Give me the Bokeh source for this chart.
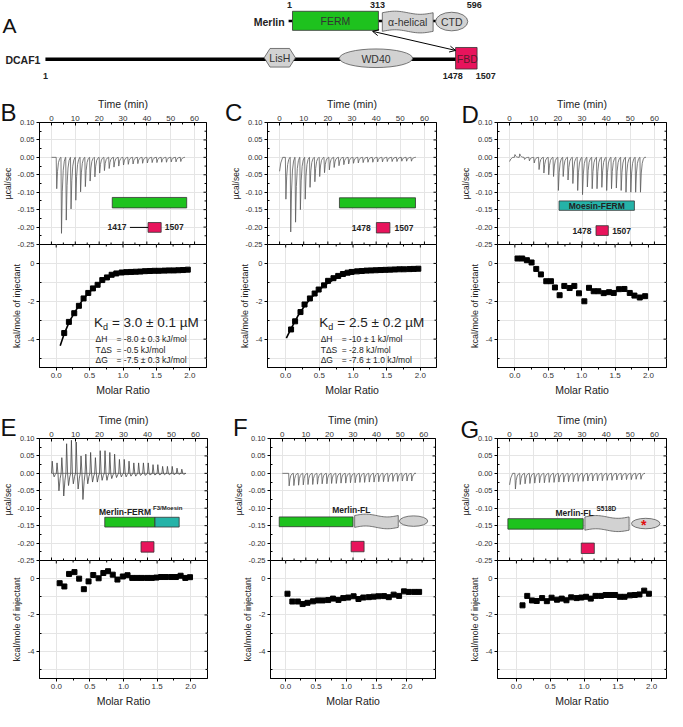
import numpy as np
from bokeh.plotting import figure
from bokeh.layouts import row, column
from bokeh.models import LinearAxis, Range1d, FixedTicker, NumeralTickFormatter, Label, Arrow, OpenHead
from bokeh.embed import file_html
from bokeh.resources import INLINE

S = 667 / 683
OVL = 5  # px that each isotherm panel slides up under its thermogram panel

FONT = "Liberation Sans"
GREEN = "#1ec21e"
PINK = "#e8145c"
TEAL = "#25b3a8"
GREY = "#d2d2d2"
EDGE = "#333333"
TRACE = "#5a5a5a"

# ---------------- data ----------------
panel_letters = ["B", "C", "D", "E", "F", "G"]
merlin_res = ["1", "313", "596"]
dcaf1_res = ["1", "1478", "1507"]

# Thermograms: injection times (min) and peak heights (ucal/sec)
B_inj_t = [2, 4, 6, 8, 10, 12, 14, 16, 18, 20, 22, 24, 26, 28, 30, 32, 34, 36, 38, 40, 42, 44, 46, 48, 50, 52, 54]
B_peak = [-0.090, -0.218, -0.180, -0.148, -0.123, -0.099, -0.084, -0.068, -0.056, -0.045, -0.038, -0.032, -0.028,
          -0.025, -0.022, -0.020, -0.019, -0.018, -0.017, -0.016, -0.015, -0.015, -0.014, -0.014, -0.013, -0.013, -0.012]

C_inj_t = [2.4, 4.4, 6.4, 8.4, 10.4, 12.4, 14.4, 16.4, 18.4, 20.4, 22.4, 24.4, 26.4, 28.4, 30.4, 32.4, 34.4, 36.4,
           38.4, 40.4, 42.4, 44.4, 46.4, 48.4, 50.4, 52.4, 54.4]
C_peak = [-0.120, -0.214, -0.186, -0.150, -0.120, -0.086, -0.070, -0.055, -0.044, -0.036, -0.029, -0.024, -0.021,
          -0.019, -0.017, -0.016, -0.015, -0.014, -0.014, -0.013, -0.013, -0.012, -0.012, -0.012, -0.011, -0.011, -0.011]
C_start = -0.040

D_inj_t = [2, 4, 6, 8, 10, 12, 14, 16, 18, 20, 22, 24, 26, 28, 30, 32, 34, 36, 38, 40, 42, 44, 46, 48, 50, 52, 54]
D_peak = [0.008, 0.010, -0.006, -0.010, -0.016, -0.035, -0.045, -0.050, -0.055, -0.095, -0.055, -0.065, -0.075,
          -0.095, -0.107, -0.085, -0.090, -0.090, -0.086, -0.095, -0.090, -0.088, -0.095, -0.100, -0.100, -0.100, -0.100]
D_start = -0.012

E_inj_t = [0, 2, 4, 6, 8, 10, 12, 14, 16, 18, 20, 22, 24, 26, 28, 30, 32, 34, 36, 38, 40, 42, 44, 46, 48, 50, 52, 54]
E_up = [0.035, 0.030, 0.045, 0.085, 0.095, 0.090, 0.050, 0.055, 0.060, 0.045, 0.065, 0.065, 0.060, 0.055, 0.040,
        0.040, 0.035, 0.030, 0.030, 0.030, 0.030, 0.025, 0.025, 0.020, 0.020, 0.020, 0.015, 0.012]
E_dn = [-0.010, -0.050, -0.065, -0.035, -0.030, -0.045, -0.075, -0.030, -0.025, -0.025, -0.020, -0.020, -0.015,
        -0.012, -0.010, -0.010, -0.008, -0.008, -0.006, -0.006, -0.005, -0.005, -0.005, -0.004, -0.004, -0.004,
        -0.003, -0.003]

F_inj_t = [2.7, 4.7, 6.7, 8.7, 10.7, 12.7, 14.7, 16.7, 18.7, 20.7, 22.7, 24.7, 26.7, 28.7, 30.7, 32.7, 34.7, 36.7,
           38.7, 40.7, 42.7, 44.7, 46.7, 48.7, 50.7, 52.7, 54.7]
F_peak = [-0.036, -0.035, -0.034, -0.033, -0.032, -0.032, -0.031, -0.030, -0.030, -0.029, -0.029, -0.028, -0.028,
          -0.027, -0.027, -0.026, -0.026, -0.025, -0.025, -0.024, -0.024, -0.024, -0.023, -0.023, -0.022, -0.022, -0.022]

G_inj_t = [2.2, 4.2, 6.2, 8.2, 10.2, 12.2, 14.2, 16.2, 18.2, 20.2, 22.2, 24.2, 26.2, 28.2, 30.2, 32.2, 34.2, 36.2,
           38.2, 40.2, 42.2, 44.2, 46.2, 48.2, 50.2, 52.2, 54.2]
G_peak = [-0.045, -0.032, -0.030, -0.029, -0.028, -0.027, -0.027, -0.026, -0.026, -0.025, -0.025, -0.024, -0.024,
          -0.023, -0.023, -0.022, -0.022, -0.021, -0.021, -0.020, -0.020, -0.019, -0.019, -0.018, -0.018, -0.017, -0.017]
G_start = -0.033

# Integrated heats (kcal/mole of injectant) vs molar ratio
B_mr = [0.12, 0.19, 0.27, 0.34, 0.41, 0.48, 0.55, 0.62, 0.69, 0.76, 0.83, 0.90, 0.98, 1.05, 1.12, 1.19, 1.26, 1.33,
        1.40, 1.47, 1.54, 1.62, 1.69, 1.76, 1.83, 1.90, 1.97]
B_heat = [-3.68, -3.09, -2.63, -2.24, -1.85, -1.56, -1.32, -1.13, -0.88, -0.74, -0.60, -0.53, -0.48, -0.46, -0.45,
          -0.44, -0.43, -0.41, -0.40, -0.39, -0.39, -0.38, -0.37, -0.37, -0.36, -0.35, -0.33]
B_fit_x = [0.06, 0.12, 0.2, 0.3, 0.4, 0.5, 0.6, 0.7, 0.8, 0.9, 1.0, 1.2, 1.4, 1.6, 1.8, 2.0]
B_fit_y = [-4.35, -3.72, -3.05, -2.45, -1.90, -1.50, -1.18, -0.90, -0.70, -0.56, -0.48, -0.43, -0.40, -0.38, -0.36, -0.34]

C_mr = [0.08, 0.14, 0.22, 0.28, 0.36, 0.43, 0.49, 0.57, 0.63, 0.71, 0.78, 0.85, 0.92, 0.98, 1.06, 1.13, 1.20, 1.27,
        1.34, 1.41, 1.48, 1.55, 1.62, 1.69, 1.76, 1.84, 1.90, 1.97]
C_heat = [-3.49, -3.06, -2.57, -2.17, -1.85, -1.59, -1.38, -1.16, -0.92, -0.78, -0.66, -0.56, -0.49, -0.45, -0.42,
          -0.40, -0.38, -0.37, -0.36, -0.35, -0.34, -0.33, -0.32, -0.31, -0.31, -0.30, -0.29, -0.28]
C_fit_x = [0.01, 0.08, 0.18, 0.29, 0.40, 0.50, 0.61, 0.72, 0.82, 0.93, 1.04, 1.25, 1.46, 1.68, 2.00]
C_fit_y = [-3.95, -3.45, -2.78, -2.20, -1.74, -1.38, -1.08, -0.84, -0.66, -0.54, -0.47, -0.40, -0.36, -0.33, -0.28]

D_mr = [0.04, 0.11, 0.18, 0.25, 0.32, 0.39, 0.47, 0.54, 0.60, 0.67, 0.74, 0.82, 0.89, 0.96, 1.04, 1.11, 1.18, 1.25,
        1.33, 1.41, 1.48, 1.56, 1.64, 1.72, 1.79, 1.87, 1.95]
D_heat = [0.26, 0.26, 0.17, 0.05, -0.29, -0.58, -0.94, -0.94, -1.27, -1.68, -1.19, -1.30, -1.19, -1.58, -2.00, -1.29,
          -1.47, -1.47, -1.57, -1.52, -1.56, -1.36, -1.35, -1.56, -1.70, -1.80, -1.73]

E_mr = [0.05, 0.12, 0.19, 0.27, 0.34, 0.41, 0.48, 0.55, 0.63, 0.70, 0.77, 0.84, 0.91, 0.99, 1.06, 1.13, 1.20, 1.27,
        1.35, 1.42, 1.49, 1.56, 1.63, 1.71, 1.78, 1.85, 1.92, 1.99]
E_heat = [-0.25, -0.43, 0.26, 0.36, 0.00, -0.58, -0.15, 0.20, 0.02, 0.31, 0.41, 0.22, -0.05, 0.12, 0.19, 0.04, 0.04,
          0.04, 0.04, 0.04, 0.06, 0.09, 0.09, 0.09, 0.09, 0.16, 0.04, 0.08]

F_mr = [0.03, 0.11, 0.20, 0.28, 0.36, 0.45, 0.53, 0.61, 0.70, 0.78, 0.87, 0.95, 1.03, 1.12, 1.20, 1.28, 1.37, 1.45,
        1.53, 1.62, 1.70, 1.78, 1.87, 1.95, 2.03, 2.12, 2.20]
F_heat = [-0.83, -1.26, -1.26, -1.40, -1.33, -1.25, -1.20, -1.20, -1.18, -1.10, -1.17, -1.07, -1.04, -0.97, -1.12,
          -1.04, -1.02, -0.99, -0.97, -0.96, -1.02, -0.88, -0.95, -0.70, -0.73, -0.73, -0.73]

G_mr = [0.09, 0.16, 0.23, 0.30, 0.38, 0.45, 0.52, 0.60, 0.67, 0.74, 0.81, 0.89, 0.96, 1.03, 1.10, 1.17, 1.25, 1.32,
        1.39, 1.46, 1.53, 1.60, 1.68, 1.75, 1.82, 1.89, 1.96]
G_heat = [-1.47, -0.95, -1.20, -1.23, -1.07, -1.24, -1.05, -1.16, -1.10, -1.19, -1.03, -1.07, -1.04, -1.00, -1.10,
          -0.95, -0.95, -0.90, -0.90, -0.90, -1.00, -1.00, -0.92, -0.90, -0.87, -0.66, -0.83]

# axis ticks
TH_YT = [-0.25, -0.20, -0.15, -0.10, -0.05, 0.00, 0.05, 0.10]
TH_YM = [-0.225, -0.175, -0.125, -0.075, -0.025, 0.025, 0.075]
TIME_T = [0, 10, 20, 30, 40, 50, 60]
TIME_M = [5, 15, 25, 35, 45, 55]
ISO_YT = [-4, -2, 0]
ISO_YM = [-5, -3, -1]
MR_T = [0.0, 0.5, 1.0, 1.5, 2.0]
MR_M = [0.25, 0.75, 1.25, 1.75]
MR_T_F = [0.0, 0.5, 1.0, 1.5, 2.0, 2.5]
MR_M_F = [0.25, 0.75, 1.25, 1.75, 2.25]

# ---------------- helpers ----------------
SPIKE_DT = [0.0, 0.22, 0.55, 0.95, 1.4, 1.9]
SPIKE_SHAPE = [0.0, 1.0, 0.45, 0.17, 0.05, 0.0]


def trace_pts(times, peaks, t_end, start=0.0):
    xs, ys = [0.0], [start]
    if start != 0.0:
        xs += [0.5, 1.3]
        ys += [start * 0.4, 0.0]
    for t, pk in zip(times, peaks):
        for dt, f in zip(SPIKE_DT, SPIKE_SHAPE):
            xs.append(t + dt)
            ys.append(pk * f)
    xs.append(t_end)
    ys.append(0.0)
    return xs, ys


def trace_updown(times, ups, downs, t_end):
    xs, ys = [], []
    for t, u, d in zip(times, ups, downs):
        xs += [t, t + 0.3, t + 0.7, t + 1.1, t + 1.6]
        ys += [0.0, u, 0.0, d, 0.3 * d]
    xs.append(t_end)
    ys.append(0.0)
    return xs, ys


def lab(p, x, y, text, size, bold=False, color="#222222", align="left", baseline="middle", xo=0, yo=0):
    p.add_layout(Label(x=x, y=y, text=text, text_font=FONT,
                       text_font_size=f"{size}px", text_font_style="bold" if bold else "normal",
                       text_color=color, text_align=align, text_baseline=baseline, x_offset=xo, y_offset=yo))


def style_axis(ax, lsize=7.5, tsize=10.5, tin=0, tout=3, min_in=2, min_out=0, tstand=3):
    ax.major_label_text_font = FONT
    ax.major_label_text_font_size = f"{lsize}px"
    ax.major_label_text_color = "#333333"
    ax.axis_label_text_font = FONT
    ax.axis_label_text_font_size = f"{tsize}px"
    ax.axis_label_text_font_style = "normal"
    ax.axis_label_text_color = "#222222"
    ax.axis_label_standoff = tstand
    ax.major_label_standoff = 2
    ax.major_tick_in = tin
    ax.major_tick_out = tout
    ax.minor_tick_in = min_in
    ax.minor_tick_out = min_out
    ax.axis_line_color = "black"
    ax.major_tick_line_color = "black"
    ax.minor_tick_line_color = "black"


def edge_ticks(p, xs, y, angle, length):
    # short inward tick marks along a frame edge (mirror ticks)
    p.ray(x=xs, y=y, length=length, length_units="screen", angle=angle, line_color="black", line_width=1)


def thermo_fig(w, h, lb, rb, tb):
    p = figure(width=w, height=h + OVL, x_range=Range1d(-5, 65), y_range=Range1d(-0.25, 0.10),
               output_backend="svg", toolbar_location=None, x_axis_location=None, y_axis_location=None,
               min_border_left=lb, min_border_right=rb, min_border_top=tb, min_border_bottom=OVL)
    p.outline_line_color = "black"
    p.border_fill_color = None
    left = LinearAxis(ticker=FixedTicker(ticks=TH_YT, minor_ticks=TH_YM),
                      formatter=NumeralTickFormatter(format="0.00"), axis_label="µcal/sec")
    style_axis(left, tsize=8.5, tstand=1)
    p.add_layout(left, "left")
    top = LinearAxis(ticker=FixedTicker(ticks=TIME_T, minor_ticks=TIME_M), axis_label="Time (min)")
    style_axis(top, lsize=8, tin=3, tout=0)
    p.add_layout(top, "above")
    edge_ticks(p, [65] * len(TH_YT), TH_YT, np.pi, 3)
    edge_ticks(p, [65] * len(TH_YM), TH_YM, np.pi, 2)
    edge_ticks(p, TIME_T, [-0.25] * len(TIME_T), np.pi / 2, 3)
    edge_ticks(p, TIME_M, [-0.25] * len(TIME_M), np.pi / 2, 2)
    return p


def iso_fig(w, h, lb, rb, bb, xr, xt, xm, xs, ys):
    p = figure(width=w, height=h, x_range=Range1d(*xr), y_range=Range1d(-5.5, 1.0),
               output_backend="svg", toolbar_location=None, x_axis_location=None, y_axis_location=None,
               min_border_left=lb, min_border_right=rb, min_border_top=0, min_border_bottom=bb,
               margin=(-OVL, 0, 0, 0))
    p.border_fill_color = None
    p.outline_line_color = "black"
    p.outline_line_width = 1
    left = LinearAxis(ticker=FixedTicker(ticks=ISO_YT, minor_ticks=ISO_YM),
                      formatter=NumeralTickFormatter(format="0"), axis_label="kcal/mole of injectant")
    style_axis(left, tsize=9)
    p.add_layout(left, "left")
    bot = LinearAxis(ticker=FixedTicker(ticks=xt, minor_ticks=xm), formatter=NumeralTickFormatter(format="0.0"),
                     axis_label="Molar Ratio")
    style_axis(bot, lsize=8, min_in=0, min_out=2)
    p.add_layout(bot, "below")
    edge_ticks(p, [xr[1]] * len(ISO_YT), ISO_YT, np.pi, 3)
    edge_ticks(p, [xr[1]] * len(ISO_YM), ISO_YM, np.pi, 2)
    edge_ticks(p, xt, [1.0] * len(xt), -np.pi / 2, 3)
    edge_ticks(p, xm, [1.0] * len(xm), -np.pi / 2, 2)
    p.scatter(xs, ys, marker="square", size=5, color="black")
    return p


def box(p, x0, x1, y0, y1, color):
    p.quad(left=x0, right=x1, bottom=y0, top=y1, fill_color=color, line_color=EDGE, line_width=0.8)


def wavy(x0, x1, y0, y1, amp, n=30):
    xs = np.linspace(x0, x1, n)
    ph = (xs - x0) / (x1 - x0)
    wave = amp * np.sin(2 * np.pi * ph)
    top = y1 + wave
    bot = y0 + wave
    return list(xs) + list(xs[::-1]), list(top) + list(bot[::-1])


# ---------------- Panel A ----------------
pA = figure(width=667, height=93, x_range=Range1d(0, 683), y_range=Range1d(95, 0), output_backend="svg",
            toolbar_location=None, x_axis_location=None, y_axis_location=None,
            min_border_left=0, min_border_right=0, min_border_top=0, min_border_bottom=0)
pA.outline_line_color = None
pA.grid.visible = False
lab(pA, 2, 26, "A", 21, color="#111111", baseline="alphabetic")
lab(pA, 291, 22, "Merlin", 10.5, bold=True, align="right")
pA.segment(x0=[295, 387, 442], y0=[21, 21, 21], x1=[299, 391, 446], y1=[21, 21, 21], line_color="black",
           line_width=2.5)
box(pA, 299, 387, 11, 30.5, GREEN)
lab(pA, 343, 21, "FERM", 10.5, color="#333333", align="center")
hx, hy = wavy(391, 443, 31.5, 12.5, -1.6)
pA.patch(hx, hy, fill_color=GREY, line_color="#555555", line_width=0.8)
lab(pA, 417, 22, "α-helical", 10.5, color="#333333", align="center")
pA.ellipse(x=[462], y=[21.5], width=33, height=19, fill_color=GREY, line_color="#555555", line_width=0.8)
lab(pA, 462, 22, "CTD", 10.5, color="#333333", align="center")
for xpos, t in zip([296, 386, 485], merlin_res):
    lab(pA, xpos, 5, t, 9, bold=True, align="center")

lab(pA, 5, 61, "DCAF1", 10.5, bold=True)
pA.segment(x0=[46], y0=[60], x1=[467], y1=[60], line_color="black", line_width=3.5)
pA.patch([270, 276, 296, 302, 296, 276], [58.5, 49, 49, 58.5, 68, 68], fill_color=GREY, line_color="#555555",
         line_width=0.8)
lab(pA, 286, 59, "LisH", 10.5, color="#333333", align="center")
pA.ellipse(x=[384.5], y=[59], width=75, height=19, fill_color=GREY, line_color="#555555", line_width=0.8)
lab(pA, 384.5, 59.5, "WD40", 10.5, color="#333333", align="center")
box(pA, 466, 488, 48, 70, PINK)
lab(pA, 478, 60, "FBD", 10.5, color="#5a1a2a", align="center")
for xpos, t in zip([46, 463, 497], dcaf1_res):
    lab(pA, xpos, 77, t, 9, bold=True, align="center")
pA.add_layout(Arrow(start=OpenHead(size=6, line_width=1), end=OpenHead(size=6, line_width=1),
                    x_start=466, y_start=51, x_end=381, y_end=31.5, line_width=1, line_color="black"))

# ---------------- Row 1 ----------------
tB = thermo_fig(220, 151, 36, 14, 29)
x, y = trace_pts(B_inj_t, B_peak, 56)
tB.line(x, y, line_color=TRACE, line_width=0.8)
box(tB, 25.5, 56.7, -0.145, -0.115, GREEN)
box(tB, 40.5, 46.0, -0.215, -0.187, PINK)
tB.segment(x0=[32.9], y0=[-0.201], x1=[40.5], y1=[-0.201], line_color="black", line_width=1)
lab(tB, 27.5, -0.201, "1417", 8.5, bold=True, align="center")
lab(tB, 51.5, -0.201, "1507", 8.5, bold=True, align="center")

bB = iso_fig(220, 166, 36, 14, 43, (-0.25, 2.25), MR_T, MR_M, B_mr, B_heat)
bB.line(B_fit_x, B_fit_y, line_color="black", line_width=1.6)
lab(bB, 0.565, -3.13, "K", 13.5)
lab(bB, 0.565, -3.13, "d", 9, xo=9, yo=-4)
lab(bB, 0.565, -3.13, "= 3.0 ± 0.1 µM", 13.5, xo=18)
for yy, a, b in [(-3.99, "ΔH", "= -8.0 ± 0.3 kJ/mol"), (-4.59, "TΔS", "= -0.5 kJ/mol"),
                 (-5.12, "ΔG", "= -7.5 ± 0.3 kJ/mol")]:
    lab(bB, 0.588, yy, a, 8.5)
    lab(bB, 0.588, yy, b, 8.5, xo=21)

tC = thermo_fig(225, 151, 47, 9, 29)
x, y = trace_pts(C_inj_t, C_peak, 56.5, start=C_start)
tC.line(x, y, line_color=TRACE, line_width=0.8)
box(tC, 24.8, 56.3, -0.145, -0.116, GREEN)
box(tC, 40.1, 45.7, -0.217, -0.187, PINK)
lab(tC, 33.8, -0.202, "1478", 8.5, bold=True, align="center")
lab(tC, 51.5, -0.202, "1507", 8.5, bold=True, align="center")

bC = iso_fig(225, 166, 47, 9, 43, (-0.27, 2.24), MR_T, MR_M, C_mr, C_heat)
bC.line(C_fit_x, C_fit_y, line_color="black", line_width=1.6)
lab(bC, 0.50, -3.13, "K", 13.5)
lab(bC, 0.50, -3.13, "d", 9, xo=9, yo=-4)
lab(bC, 0.50, -3.13, "= 2.5 ± 0.2 µM", 13.5, xo=18)
for yy, a, b in [(-3.99, "ΔH", "= -10 ± 1 kJ/mol"), (-4.59, "TΔS", "= -2.8 kJ/mol"),
                 (-5.12, "ΔG", "= -7.6 ± 1.0 kJ/mol")]:
    lab(bC, 0.52, yy, a, 8.5)
    lab(bC, 0.52, yy, b, 8.5, xo=21)

tD = thermo_fig(222, 151, 52, 1, 29)
x, y = trace_pts(D_inj_t, D_peak, 56.5, start=D_start)
tD.line(x, y, line_color=TRACE, line_width=0.8)
box(tD, 20.5, 51.7, -0.152, -0.125, TEAL)
lab(tD, 36.1, -0.1385, "Moesin-FERM", 8.5, bold=True, color="#222222", align="center")
box(tD, 35.8, 40.9, -0.224, -0.196, PINK)
lab(tD, 30.0, -0.21, "1478", 8.5, bold=True, align="center")
lab(tD, 46.4, -0.21, "1507", 8.5, bold=True, align="center")

bD = iso_fig(222, 166, 52, 1, 43, (-0.26, 2.27), MR_T, MR_M, D_mr, D_heat)

# ---------------- Row 2 ----------------
tE = thermo_fig(223, 150, 38, 16, 28)
x, y = trace_updown(E_inj_t, E_up, E_dn, 56)
tE.line(x, y, line_color="#444444", line_width=0.8)
tE.line([0, 56], [0, 0], line_color="#444444", line_width=0.6)
box(tE, 22.2, 43.1, -0.154, -0.126, GREEN)
box(tE, 43.1, 53.2, -0.154, -0.126, TEAL)
lab(tE, 19.8, -0.112, "Merlin-FERM", 8.5, bold=True)
lab(tE, 19.8, -0.112, "F3/Moesin", 6, bold=True, xo=54, yo=4)
box(tE, 37.3, 42.7, -0.226, -0.196, PINK)
bE = iso_fig(223, 149, 38, 16, 27, (-0.25, 2.25), MR_T, MR_M, E_mr, E_heat)

tF = thermo_fig(222, 150, 47, 10, 28)
x, y = trace_pts(F_inj_t, F_peak, 56)
tF.line(x, y, line_color=TRACE, line_width=0.8)
box(tF, -1.3, 30.0, -0.153, -0.125, GREEN)
wx, wy = wavy(30.7, 49.2, -0.155, -0.121, 0.004)
tF.patch(wx, wy, fill_color=GREY, line_color="#555555", line_width=0.8)
tF.ellipse(x=[55.7], y=[-0.137], width=12, height=0.03, fill_color=GREY, line_color="#555555", line_width=0.8)
lab(tF, 29.3, -0.106, "Merlin-FL", 8.5, bold=True, align="center")
box(tF, 29.2, 34.7, -0.225, -0.195, PINK)
bF = iso_fig(222, 149, 47, 10, 27, (-0.25, 2.47), MR_T_F, MR_M_F, F_mr, F_heat)

tG = thermo_fig(222, 150, 52, 1, 28)
x, y = trace_pts(G_inj_t, G_peak, 56, start=G_start)
tG.line(x, y, line_color=TRACE, line_width=0.8)
box(tG, -0.7, 30.5, -0.160, -0.130, GREEN)
wx, wy = wavy(31.2, 49.5, -0.163, -0.125, 0.004)
tG.patch(wx, wy, fill_color=GREY, line_color="#555555", line_width=0.8)
tG.ellipse(x=[56.4], y=[-0.144], width=11.8, height=0.03, fill_color=GREY, line_color="#555555", line_width=0.8)
lab(tG, 55.6, -0.147, "*", 14, bold=True, color="#e01010", align="center")
lab(tG, 19.0, -0.113, "Merlin-FL", 8.5, bold=True)
lab(tG, 19.0, -0.113, "S518D", 6.5, bold=True, xo=41, yo=4)
box(tG, 29.7, 35.1, -0.230, -0.200, PINK)
bG = iso_fig(222, 149, 52, 1, 27, (-0.28, 2.22), MR_T, MR_M, G_mr, G_heat)

# ---------------- overlay with the panel letters ----------------
TOTAL_H = 93 + 151 + 166 + 150 + 149
ov = figure(width=667, height=TOTAL_H, x_range=Range1d(0, 683), y_range=Range1d(727, 0), output_backend="svg",
            toolbar_location=None, x_axis_location=None, y_axis_location=None,
            min_border_left=0, min_border_right=0, min_border_top=0, min_border_bottom=0,
            margin=(-TOTAL_H, 0, 0, 0))
ov.outline_line_color = None
ov.background_fill_color = None
ov.border_fill_color = None
ov.grid.visible = False
for (lx, ly), t in zip([(0, 115), (230, 115), (472, 117), (0, 438), (238, 438), (471, 440)], panel_letters):
    lab(ov, lx, ly, t, 24, color="#111111", baseline="alphabetic")

row1 = row(column(tB, bB), column(tC, bC), column(tD, bD))
row2 = row(column(tE, bE), column(tF, bF), column(tG, bG))
page = column(pA, row1, row2, ov)

open("out.html", "w").write(file_html(page, INLINE))
